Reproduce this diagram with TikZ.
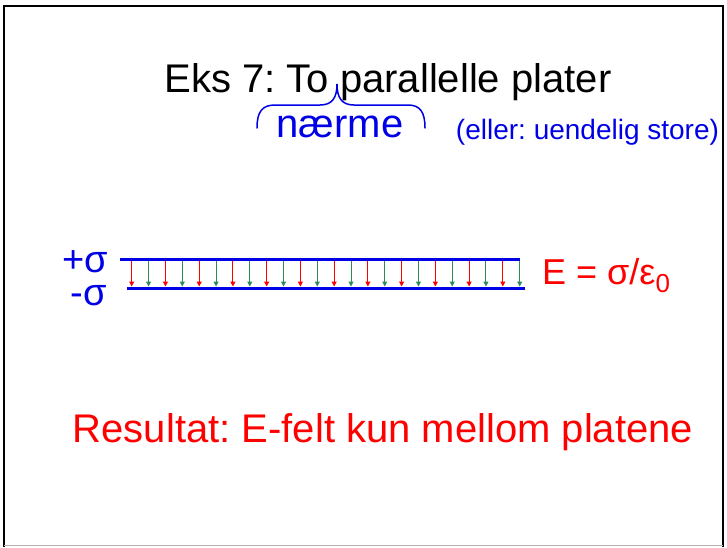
\documentclass[tikz,border=0pt]{standalone}
\usepackage{fontspec}
\setmainfont{Liberation Sans}
\usetikzlibrary{arrows.meta}
\frenchspacing
\definecolor{fieldgreen}{RGB}{46,139,87}
\definecolor{fieldred}{RGB}{255,0,0}
\definecolor{plateblue}{RGB}{0,0,230}
\tikzset{
  big/.style={inner sep=0pt, font=\fontsize{40}{48}\selectfont},
  small/.style={inner sep=0pt, font=\fontsize{28}{34}\selectfont},
  plate/.style={line width=3pt, draw=plateblue},
  fieldarrow/.style={line width=1pt, -{Triangle[length=5pt,width=5pt]}},
}
\begin{document}
\begin{tikzpicture}[x=1pt,y=-1pt]
\useasboundingbox (0,0) rectangle (727,547);
% frame
\draw[line width=2pt,black] (4,547) -- (4,6) -- (723,6) -- (723,547);
\draw[line width=1.2pt,black!30] (4,545.5) -- (723,545.5);
% texts
\node[big, anchor=base] (title) at (388,92) {Eks 7: To parallelle plater};
\node[big, anchor=base, text=plateblue] (naerme) at (340,137) {nærme};
\node[small, anchor=base, text=plateblue] (eller) at (587.5,139) {(eller: uendelig store)};
% brace
\draw[plateblue, line width=1.5pt, line cap=round]
  (257,128) .. controls (257,112) and (262,105) .. (275,105) -- (320,105)
  .. controls (332,105) and (337,98) .. (337,84)
  .. controls (337,98) and (342,105) .. (354,105) -- (408,105)
  .. controls (420,105) and (425,112) .. (425,128);
% plates
\coordinate (topL) at (120,259);
\coordinate (topR) at (520,259);
\coordinate (botL) at (127,288);
\coordinate (botR) at (525,288);
\draw[plate] (topL) -- (topR);
\draw[plate] (botL) -- (botR);
\node[anchor=base, inner sep=0pt, text=plateblue, font=\fontsize{38}{40}\selectfont] (plus) at (85,272) {+σ};
\node[anchor=base, inner sep=0pt, text=plateblue, font=\fontsize{38}{40}\selectfont] (minus) at (88.5,305) {-σ};
% field arrows
\foreach \i in {0,...,23}{
  \pgfmathsetmacro{\xx}{131.7+16.87*\i}
  \pgfmathtruncatemacro{\odd}{mod(\i,2)}
  \coordinate (t\i) at (\xx,260.5);
  \coordinate (b\i) at (\xx,286.5);
  \ifnum\odd=0
    \draw[fieldarrow, fieldred] (t\i) -- (b\i);
  \else
    \draw[fieldarrow, fieldgreen] (t\i) -- (b\i);
  \fi
}
\node[anchor=base west, inner sep=0pt, text=fieldred, font=\fontsize{36}{42}\selectfont] (efield) at (542,284) {E = σ/ε\raisebox{-8pt}{\fontsize{26}{26}\selectfont 0}};
\node[big, anchor=base, text=fieldred] (result) at (383,442) {Resultat: E-felt kun mellom platene};
\end{tikzpicture}
\end{document}
